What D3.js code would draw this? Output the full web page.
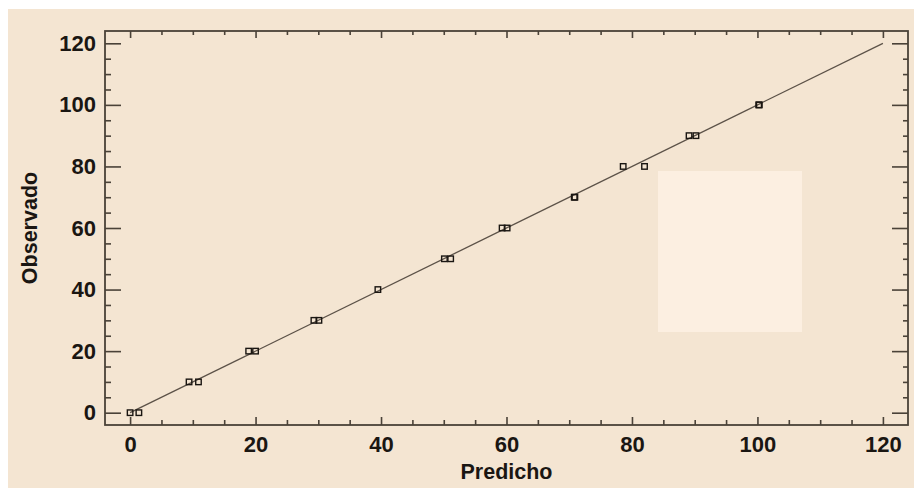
<!DOCTYPE html>
<html>
<head>
<meta charset="utf-8">
<script src="https://cdn.jsdelivr.net/npm/d3@7"></script>
<style>
  html, body { margin: 0; padding: 0; background: #fff; }
  svg { display: block; }
</style>
</head>
<body>
<div id="chart"></div>
<script>
const WIDTH = 914;
const HEIGHT = 488;
const FRAME = { left: 105, top: 31, right: 908, bottom: 425 };

// values
const predicho = [0, 1.4, 9.4, 10.9, 18.9, 20.0, 29.3, 30.1, 39.5, 50.1, 51.1,
  59.3, 60.1, 70.8, 70.9, 78.6, 82.0, 89.1, 90.2, 100.2, 100.3];
const observado = [0, 0, 10, 10, 20, 20, 30, 30, 40, 50, 50,
  60, 60, 70, 70, 80, 80, 90, 90, 100, 100];
const fitLine = [[0, 0], [120, 120]];
const majorTicks = [0, 20, 40, 60, 80, 100, 120];
const minorTicks = d3.range(5, 120, 5).filter(v => v % 20 !== 0);

const BG = "#f4e5d2";
const INK = "#4a4238";
const TEXT = "#1a1612";
const FONT = "'Liberation Sans', Arial, Helvetica, sans-serif";

const svg = d3.select("#chart").append("svg")
  .attr("width", WIDTH)
  .attr("height", HEIGHT);

svg.append("rect")
  .attr("x", 8).attr("y", 9)
  .attr("width", WIDTH - 8).attr("height", HEIGHT - 9)
  .attr("fill", BG);

// lighter patch inside the plot
svg.append("rect")
  .attr("x", 658).attr("y", 171)
  .attr("width", 144).attr("height", 161)
  .attr("fill", "#fcefe1");

const x = d3.scaleLinear().domain([-4, 124]).range([FRAME.left, FRAME.right]);
const y = d3.scaleLinear().domain([-4, 124]).range([FRAME.bottom, FRAME.top]);

function drawAxis(axisFn, scale, transform, values, size, labels) {
  const g = svg.append("g")
    .attr("transform", transform)
    .call(axisFn(scale)
      .tickValues(values)
      .tickSize(-size)
      .tickPadding(labels ? (axisFn === d3.axisLeft ? 9 : 11) : 0)
      .tickFormat(labels ? d3.format("d") : () => ""));
  g.select(".domain").remove();
  g.selectAll("line").attr("stroke", INK).attr("stroke-width", 1.6);
  g.selectAll("text")
    .attr("fill", TEXT)
    .attr("font-family", FONT)
    .attr("font-weight", "bold")
    .attr("font-size", 22);
  return g;
}

// bottom / top (x)
drawAxis(d3.axisBottom, x, `translate(0,${FRAME.bottom})`, majorTicks, 8, true);
drawAxis(d3.axisBottom, x, `translate(0,${FRAME.bottom})`, minorTicks, 5, false);
drawAxis(d3.axisTop, x, `translate(0,${FRAME.top})`, majorTicks, 7, false);
drawAxis(d3.axisTop, x, `translate(0,${FRAME.top})`, minorTicks, 4, false);
// left / right (y)
drawAxis(d3.axisLeft, y, `translate(${FRAME.left},0)`, majorTicks, 16, true);
drawAxis(d3.axisLeft, y, `translate(${FRAME.left},0)`, minorTicks, 6, false);
drawAxis(d3.axisRight, y, `translate(${FRAME.right},0)`, majorTicks, 16, false);
drawAxis(d3.axisRight, y, `translate(${FRAME.right},0)`, minorTicks, 5, false);

// frame
svg.append("rect")
  .attr("x", FRAME.left).attr("y", FRAME.top)
  .attr("width", FRAME.right - FRAME.left)
  .attr("height", FRAME.bottom - FRAME.top)
  .attr("fill", "none")
  .attr("stroke", INK)
  .attr("stroke-width", 1.8);

// fitted line
svg.append("path")
  .datum(fitLine)
  .attr("d", d3.line().x(d => x(d[0])).y(d => y(d[1])))
  .attr("fill", "none")
  .attr("stroke", "#5c5248")
  .attr("stroke-width", 1.3);

// points
const SQ = 5.5;
svg.append("g").selectAll("rect")
  .data(predicho.map((p, i) => [p, observado[i]]))
  .join("rect")
    .attr("x", d => x(d[0]) - SQ / 2)
    .attr("y", d => y(d[1]) - SQ / 2)
    .attr("width", SQ)
    .attr("height", SQ)
    .attr("fill", "none")
    .attr("stroke", TEXT)
    .attr("stroke-width", 1.4);

// axis titles
svg.append("text")
  .attr("x", (FRAME.left + FRAME.right) / 2)
  .attr("y", 479)
  .attr("text-anchor", "middle")
  .attr("font-family", FONT)
  .attr("font-weight", "bold")
  .attr("font-size", 21.5)
  .attr("fill", TEXT)
  .text("Predicho");

svg.append("text")
  .attr("transform", `translate(37,${(FRAME.top + FRAME.bottom) / 2}) rotate(-90)`)
  .attr("text-anchor", "middle")
  .attr("font-family", FONT)
  .attr("font-weight", "bold")
  .attr("font-size", 21.5)
  .attr("fill", TEXT)
  .text("Observado");
</script>
</body>
</html>
